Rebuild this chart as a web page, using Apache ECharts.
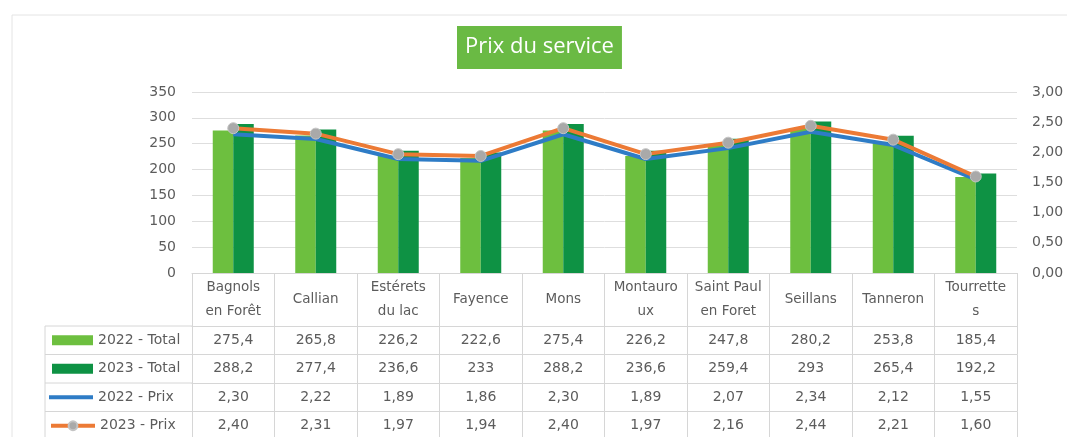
<!DOCTYPE html>
<html>
<head>
<meta charset="utf-8">
<script src="https://cdn.jsdelivr.net/npm/echarts@6/dist/echarts.min.js"></script>
<style>
html,body{margin:0;padding:0;background:#fff;}
#chart{width:1067px;height:437px;}
</style>
</head>
<body>
<div id="chart"></div>
<script>
// ---- data ----
const categories = ['Bagnols\nen Forêt', 'Callian', 'Estérets\ndu lac', 'Fayence', 'Mons',
  'Montauro\nux', 'Saint Paul\nen Foret', 'Seillans', 'Tanneron', 'Tourrette\ns'];
const seriesNames = ['2022 - Total', '2023 - Total', '2022 - Prix', '2023 - Prix'];
const total2022 = [275.4, 265.8, 226.2, 222.6, 275.4, 226.2, 247.8, 280.2, 253.8, 185.4];
const total2023 = [288.2, 277.4, 236.6, 233, 288.2, 236.6, 259.4, 293, 265.4, 192.2];
const prix2022 = [2.30, 2.22, 1.89, 1.86, 2.30, 1.89, 2.07, 2.34, 2.12, 1.55];
const prix2023 = [2.40, 2.31, 1.97, 1.94, 2.40, 1.97, 2.16, 2.44, 2.21, 1.60];
const leftTicks = { min: 0, max: 350, interval: 50 };
const rightTicks = { min: 0, max: 3, interval: 0.5 };

// ---- layout / style ----
const W = 1067, H = 437;
const GRID_LEFT = 192, GRID_RIGHT_X = 1017, GRID_TOP = 92, GRID_BOTTOM_Y = 273;
const HEADER_H = 53, ROW_H = 28.5;
const TABLE_LEFT = 45;
const FONT = '"DejaVu Sans", sans-serif';
const TXT = '#5c5c5c';
const LINE_C = '#d6d6d6';
const C_LIGHT = '#6dbf3f', C_DARK = '#0e9244', C_BLUE = '#2e7cc6', C_ORANGE = '#ec7a35', C_MARK = '#a9a9a9';

const fmtTotal = v => String(v).replace('.', ',');
const fmtPrix = v => v.toFixed(2).replace('.', ',');
const tableRows = [total2022.map(fmtTotal), total2023.map(fmtTotal), prix2022.map(fmtPrix), prix2023.map(fmtPrix)];

const xAxes = [{
  type: 'category', data: categories, position: 'bottom', gridIndex: 0,
  axisLine: { show: true, onZero: false, lineStyle: { color: LINE_C, width: 1 } },
  axisTick: { show: true, length: HEADER_H, interval: 0, lineStyle: { color: LINE_C } },
  axisLabel: { interval: 0, margin: HEADER_H / 2, verticalAlign: 'middle', lineHeight: 24,
    color: TXT, fontSize: 13.5, fontFamily: FONT }
}];
tableRows.forEach((row, i) => {
  xAxes.push({
    type: 'category', data: row, position: 'bottom', gridIndex: 0,
    offset: HEADER_H + i * ROW_H,
    axisLine: { show: true, onZero: false, lineStyle: { color: LINE_C, width: 1 } },
    axisTick: { show: true, length: ROW_H, interval: 0, lineStyle: { color: LINE_C } },
    axisLabel: { interval: 0, margin: ROW_H / 2, verticalAlign: 'middle',
      color: TXT, fontSize: 14, fontFamily: FONT }
  });
});

const graphics = [
  { type: 'rect', shape: { x: 12, y: 15, width: W, height: H }, style: { fill: 'none', stroke: '#e4e4e4', lineWidth: 1 }, silent: true }
];
for (let i = 0; i < 4; i++) {
  const y = GRID_BOTTOM_Y + HEADER_H + i * ROW_H;
  graphics.push({ type: 'line', shape: { x1: TABLE_LEFT, y1: y, x2: GRID_LEFT, y2: y }, style: { stroke: LINE_C, lineWidth: 1 }, silent: true });
}
graphics.push({ type: 'line', shape: { x1: TABLE_LEFT, y1: GRID_BOTTOM_Y + HEADER_H, x2: TABLE_LEFT, y2: H + 5 }, style: { stroke: LINE_C, lineWidth: 1 }, silent: true });

const legendIcon = [
  { icon: 'rect', itemWidth: 41, itemHeight: 10, left: 52 },
  { icon: 'rect', itemWidth: 41, itemHeight: 10, left: 52 },
  { icon: 'rect', itemWidth: 44, itemHeight: 4, left: 49 },
  { itemWidth: 44, itemHeight: 11, left: 49 }
];
const legends = seriesNames.map((n, i) => ({
  data: [n], orient: 'horizontal', padding: 0, itemGap: 0,
  left: legendIcon[i].left,
  top: GRID_BOTTOM_Y + HEADER_H + i * ROW_H + ROW_H / 2 - 8,
  itemWidth: legendIcon[i].itemWidth, itemHeight: legendIcon[i].itemHeight,
  icon: legendIcon[i].icon,
  lineStyle: { width: 4 },
  selectedMode: false,
  textStyle: { color: TXT, fontSize: 14, fontFamily: FONT, lineHeight: 16 }
}));

const chart = echarts.init(document.getElementById('chart'), null, { renderer: 'canvas' });
chart.setOption({
  animation: false,
  backgroundColor: '#fff',
  title: {
    text: 'Prix du service', left: 457, top: 26,
    backgroundColor: '#6aba44', padding: [10, 8, 11, 8],
    textStyle: { color: '#fff', fontFamily: '"Open Sans", sans-serif', fontSize: 22, fontWeight: 'normal', lineHeight: 22 }
  },
  legend: legends,
  grid: { left: GRID_LEFT, top: GRID_TOP, width: GRID_RIGHT_X - GRID_LEFT, height: GRID_BOTTOM_Y - GRID_TOP, containLabel: false },
  xAxis: xAxes,
  yAxis: [{
    type: 'value', min: leftTicks.min, max: leftTicks.max, interval: leftTicks.interval,
    axisLine: { show: false }, axisTick: { show: false },
    splitLine: { lineStyle: { color: '#dedede' } },
    axisLabel: { color: TXT, fontSize: 14, fontFamily: FONT, margin: 16 }
  }, {
    type: 'value', min: rightTicks.min, max: rightTicks.max, interval: rightTicks.interval,
    axisLine: { show: false }, axisTick: { show: false }, splitLine: { show: false },
    axisLabel: { color: TXT, fontSize: 14, fontFamily: FONT, margin: 15, formatter: v => v.toFixed(2).replace('.', ',') }
  }],
  series: [
    { name: seriesNames[0], type: 'bar', data: total2022, xAxisIndex: 0, yAxisIndex: 0, barWidth: 20.5, barGap: '0%', itemStyle: { color: C_LIGHT } },
    { name: seriesNames[1], type: 'bar', data: total2023, xAxisIndex: 0, yAxisIndex: 0, barWidth: 20.5, barGap: '0%', itemStyle: { color: C_DARK } },
    { name: seriesNames[2], type: 'line', data: prix2022, xAxisIndex: 0, yAxisIndex: 1, symbol: 'none', z: 3,
      lineStyle: { color: C_BLUE, width: 4 }, itemStyle: { color: C_BLUE } },
    { name: seriesNames[3], type: 'line', data: prix2023, xAxisIndex: 0, yAxisIndex: 1, symbol: 'circle', symbolSize: 11, z: 4,
      lineStyle: { color: C_ORANGE, width: 4 }, itemStyle: { color: C_MARK, borderColor: '#c4c4c4', borderWidth: 1 } }
  ],
  graphic: graphics
});
</script>
</body>
</html>
